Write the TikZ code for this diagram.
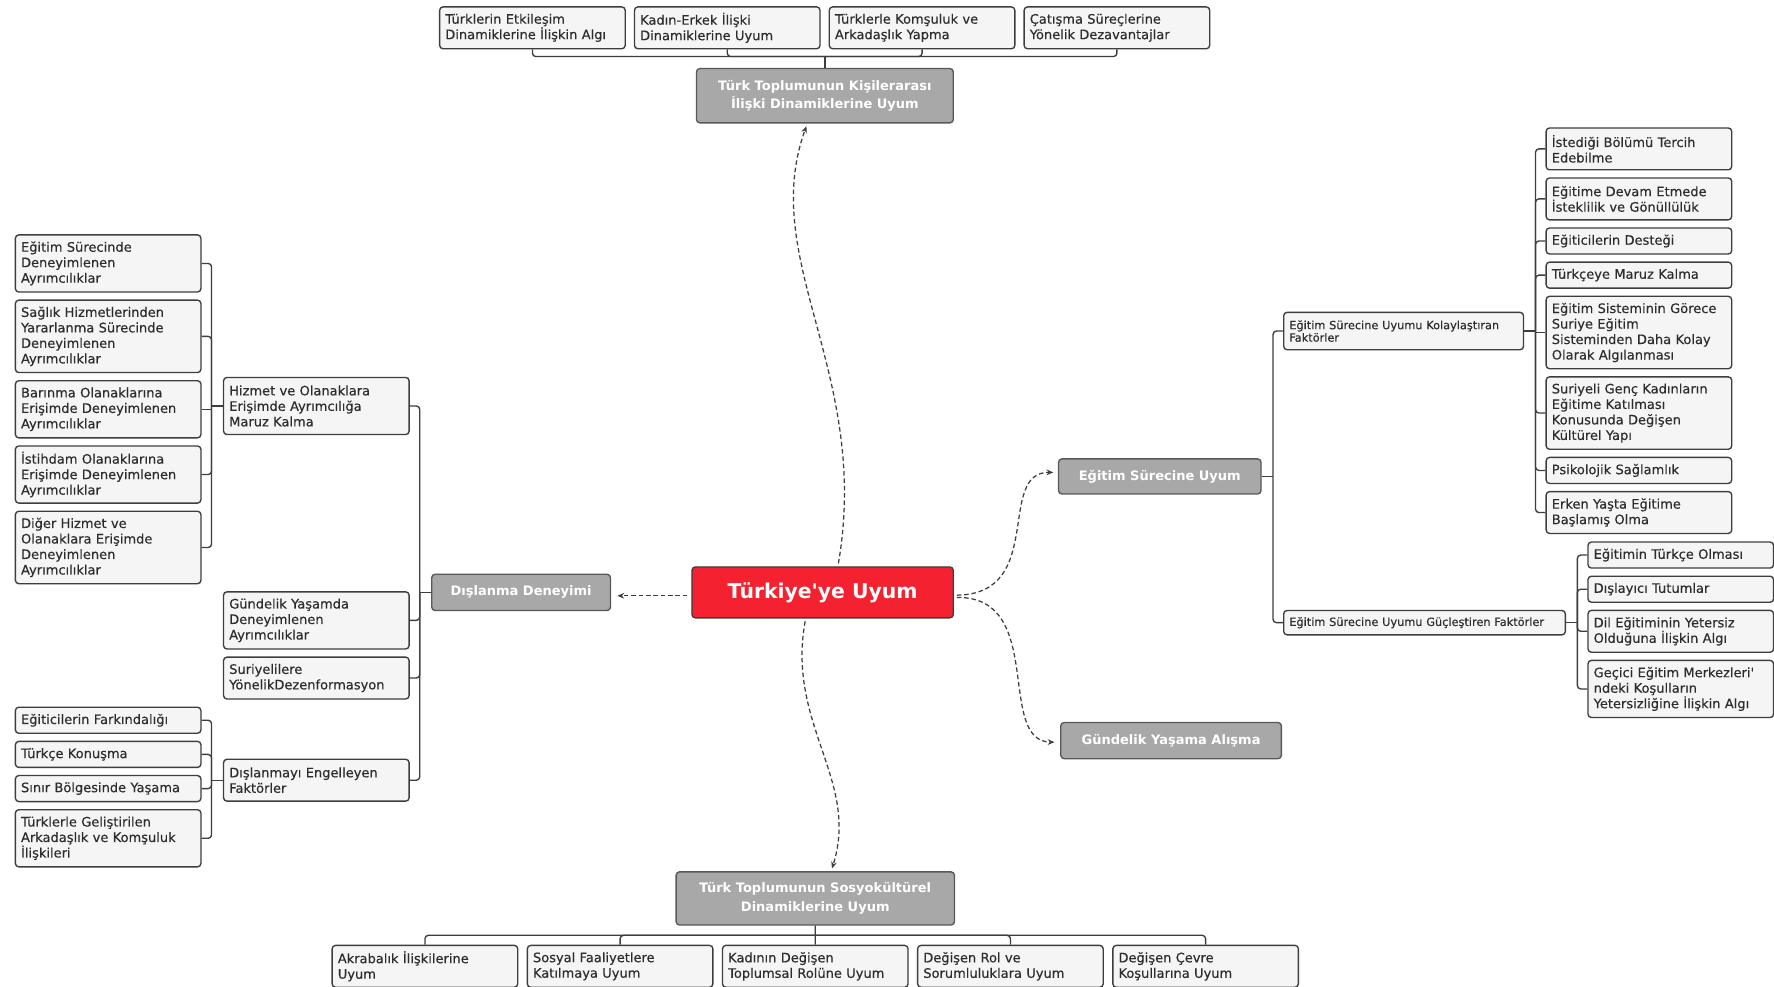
\documentclass[tikz,border=0pt]{standalone}
\usepackage{fontspec}
\setmainfont{DejaVu Sans}
\newfontfamily\leaffont{DejaVu Sans}[FakeBold=0.35]
\usetikzlibrary{positioning, arrows.meta}
\definecolor{boxfill}{RGB}{245,245,245}
\definecolor{boxline}{RGB}{62,62,62}
\definecolor{topicfill}{RGB}{168,168,168}
\definecolor{topicline}{RGB}{88,88,88}
\definecolor{rootred}{RGB}{244,33,48}
\definecolor{textgray}{RGB}{45,45,45}
\tikzset{
leaf/.style={draw=boxline, fill=boxfill, line width=1.2pt, rounded corners=3pt, align=left, text width=154pt, inner xsep=5pt, inner ysep=1pt, text=textgray, font=\leaffont\fontsize{11.5}{13.7}\selectfont}, % the light boxes
small/.style={font=\leaffont\fontsize{10}{11}\selectfont}, % the two factor boxes on the right
l1/.style={minimum height=23pt}, % box heights by number of lines
l2/.style={minimum height=37pt},
l3/.style={minimum height=50.5pt},
l4/.style={minimum height=64pt},
topic/.style={draw=topicline, fill=topicfill, line width=1.2pt, rounded corners=3pt, align=center, inner sep=0pt, anchor=north west, text=white, font=\bfseries\fontsize{11.5}{16.5}\selectfont}, % gray main topics
branch/.style={draw=boxline, line width=1.2pt, rounded corners=3pt}, % tree lines
link/.style={draw=boxline, line width=1.1pt, dash pattern=on 4pt off 2.5pt, -{Stealth[length=6pt,width=5pt]}, shorten <=2.5pt, shorten >=2.5pt}, % dashed arrows from the root
}

\begin{document}
\begin{tikzpicture}[x=1pt, y=-1pt]
      \fill[white] (0,0) rectangle (1568,872);
      \useasboundingbox (0,0) rectangle (1568,872);

      % root and main topics
      \node[topic, fill=rootred, draw=boxline, minimum width=231pt, minimum height=45pt, font=\bfseries\fontsize{18}{20}\selectfont] (root) at (611,500.5) {Türkiye\textquotesingle ye Uyum};
      \node[topic, minimum width=227pt, minimum height=48pt] (kis) at (615,60) {Türk Toplumunun Kişilerarası\\İlişki Dinamiklerine Uyum};
      \node[topic, minimum width=246pt, minimum height=47pt] (sos) at (597,770) {Türk Toplumunun Sosyokültürel\\Dinamiklerine Uyum};
      \node[topic, minimum width=158pt, minimum height=32pt] (dis) at (381,507) {Dışlanma Deneyimi};
      \node[topic, minimum width=179pt, minimum height=31pt] (egt) at (935,405) {Eğitim Sürecine Uyum};
      \node[topic, minimum width=195pt, minimum height=32pt] (gun) at (937,638) {Gündelik Yaşama Alışma};

      % top row
      \node[leaf, l2, anchor=north west] (etk) at (388,5.5) {Türklerin Etkileşim\\Dinamiklerine İlişkin Algı};
      \node[leaf, l2, right=7pt of etk] (kad) {Kadın-Erkek İlişki\\Dinamiklerine Uyum};
      \node[leaf, l2, right=7pt of kad] (kom) {Türklerle Komşuluk ve\\Arkadaşlık Yapma};
      \node[leaf, l2, right=7pt of kom] (cat) {Çatışma Süreçlerine\\Yönelik Dezavantajlar};

      % bottom row
      \node[leaf, l2, anchor=north west] (akr) at (293,835) {Akrabalık İlişkilerine\\Uyum};
      \node[leaf, l2, right=7.3pt of akr] (sfk) {Sosyal Faaliyetlere\\Katılmaya Uyum};
      \node[leaf, l2, right=7.3pt of sfk] (kdn) {Kadının Değişen\\Toplumsal Rolüne Uyum};
      \node[leaf, l2, right=7.3pt of kdn] (drs) {Değişen Rol ve\\Sorumluluklara Uyum};
      \node[leaf, l2, right=7.3pt of drs] (dcv) {Değişen Çevre\\Koşullarına Uyum};

      % left side
      \node[leaf, l3, anchor=north west] (hiz) at (197,333) {Hizmet ve Olanaklara\\Erişimde Ayrımcılığa\\Maruz Kalma};
      \node[leaf, l3, anchor=north west] (gya) at (197,522.5) {Gündelik Yaşamda\\Deneyimlenen\\Ayrımcılıklar};
      \node[leaf, l2, below=6pt of gya] (sur) {Suriyelilere\\YönelikDezenformasyon};
      \node[leaf, l2, anchor=north west] (dse) at (197,670.5) {Dışlanmayı Engelleyen\\Faktörler};

      \node[leaf, l3, anchor=north west] (egs) at (13,207) {Eğitim Sürecinde\\Deneyimlenen\\Ayrımcılıklar};
      \node[leaf, l4, below=6pt of egs] (sag) {Sağlık Hizmetlerinden\\Yararlanma Sürecinde\\Deneyimlenen\\Ayrımcılıklar};
      \node[leaf, l3, below=6pt of sag] (bar) {Barınma Olanaklarına\\Erişimde Deneyimlenen\\Ayrımcılıklar};
      \node[leaf, l3, below=6pt of bar] (ist) {İstihdam Olanaklarına\\Erişimde Deneyimlenen\\Ayrımcılıklar};
      \node[leaf, l4, below=6pt of ist] (dig) {Diğer Hizmet ve\\Olanaklara Erişimde\\Deneyimlenen\\Ayrımcılıklar};

      \node[leaf, l1, anchor=north west] (egf) at (13,624.5) {Eğiticilerin Farkındalığı};
      \node[leaf, l1, below=6pt of egf] (tkk) {Türkçe Konuşma};
      \node[leaf, l1, below=6pt of tkk] (snr) {Sınır Bölgesinde Yaşama};
      \node[leaf, l3, below=6pt of snr] (trk) {Türklerle Geliştirilen\\Arkadaşlık ve Komşuluk\\İlişkileri};

      % right side
      \node[leaf, small, text width=202pt, minimum height=33pt, anchor=north west] (kol) at (1134,275.5) {Eğitim Sürecine Uyumu Kolaylaştıran\\Faktörler};
      \node[leaf, small, text width=239pt, minimum height=21.5pt, anchor=north west] (zor) at (1134,539) {Eğitim Sürecine Uyumu Güçleştiren Faktörler};

      \node[leaf, l2, anchor=north west] (ter) at (1366,112.5) {İstediği Bölümü Tercih\\Edebilme};
      \node[leaf, l2, below=6pt of ter] (egd) {Eğitime Devam Etmede\\İsteklilik ve Gönüllülük};
      \node[leaf, l1, below=6pt of egd] (des) {Eğiticilerin Desteği};
      \node[leaf, l1, below=6pt of des] (tma) {Türkçeye Maruz Kalma};
      \node[leaf, l4, below=6pt of tma] (gor) {Eğitim Sisteminin Görece\\Suriye Eğitim\\Sisteminden Daha Kolay\\Olarak Algılanması};
      \node[leaf, l4, below=6pt of gor] (sgk) {Suriyeli Genç Kadınların\\Eğitime Katılması\\Konusunda Değişen\\Kültürel Yapı};
      \node[leaf, l1, below=6pt of sgk] (psk) {Psikolojik Sağlamlık};
      \node[leaf, l2, below=6pt of psk] (erk) {Erken Yaşta Eğitime\\Başlamış Olma};

      \node[leaf, l1, anchor=north west] (tur) at (1403,478.5) {Eğitimin Türkçe Olması};
      \node[leaf, l1, below=6pt of tur] (dsl) {Dışlayıcı Tutumlar};
      \node[leaf, l2, below=6pt of dsl] (dil) {Dil Eğitiminin Yetersiz\\Olduğuna İlişkin Algı};
      \node[leaf, l3, below=6pt of dil] (gec) {Geçici Eğitim Merkezleri\textquotesingle\\ndeki Koşulların\\Yetersizliğine İlişkin Algı};

      % tree lines
      \draw[branch] (kis.north) -- ++(0,-10);
      \foreach \n in {etk,kad,kom,cat}
        \draw[branch] ([yshift=10pt]kis.north) -| (\n.south);

      \draw[branch] (sos.south) -- (kdn.north);
      \foreach \n in {akr,sfk,drs,dcv}
        \draw[branch] ([yshift=-8.5pt]sos.south) -| (\n.north);

      \draw[branch] (dis.west) -- ++(-10,0);
      \foreach \n in {hiz,gya,sur,dse}
        \draw[branch] ([xshift=-10pt]dis.west) |- (\n.east);

      \draw[branch] (hiz.west) -- ++(-10,0);
      \foreach \n in {egs,sag,ist,dig}
        \draw[branch] ([xshift=-10pt]hiz.west) |- (\n.east);
      \draw[branch, sharp corners] ([xshift=-10pt]hiz.west) |- (bar.east);

      \draw[branch] (dse.west) -- ++(-10,0);
      \foreach \n in {egf,tkk,snr,trk}
        \draw[branch] ([xshift=-10pt]dse.west) |- (\n.east);

      \draw[branch] (egt.east) -- ++(10,0);
      \foreach \n in {kol,zor}
        \draw[branch] ([xshift=10pt]egt.east) |- (\n.west);

      \draw[branch] (kol.east) -- ++(10,0);
      \foreach \n in {ter,egd,des,tma,sgk,psk,erk}
        \draw[branch] ([xshift=10pt]kol.east) |- (\n.west);
      \draw[branch, sharp corners] ([xshift=10pt]kol.east) |- (gor.west);

      \draw[branch] (zor.east) -- ++(10,0);
      \foreach \n in {tur,dsl,dil,gec}
        \draw[branch] ([xshift=10pt]zor.east) |- (\n.west);

      % dashed arrows out of the root
      \draw[link] ([xshift=13.5pt]root.north) .. controls (770,330) and (670,230) .. ([xshift=-15.5pt]kis.south);
      \draw[link] ([xshift=-15pt]root.south) .. controls (695,640) and (760,690) .. ([xshift=14pt]sos.north);
      \draw[link, shorten >=5.5pt, shorten <=3.5pt] ([yshift=-3pt]root.west) -- ([yshift=-3pt]dis.east);
      \draw[link, shorten >=4pt] ([yshift=-2.5pt]root.east) .. controls (925,525) and (880,417) .. ([yshift=3.5pt]egt.west);
      \draw[link, shorten >=5pt] ([yshift=-4.5pt]root.east) .. controls (925,527) and (880,655) .. ([yshift=-1.5pt]gun.west);
\end{tikzpicture}
\end{document}
